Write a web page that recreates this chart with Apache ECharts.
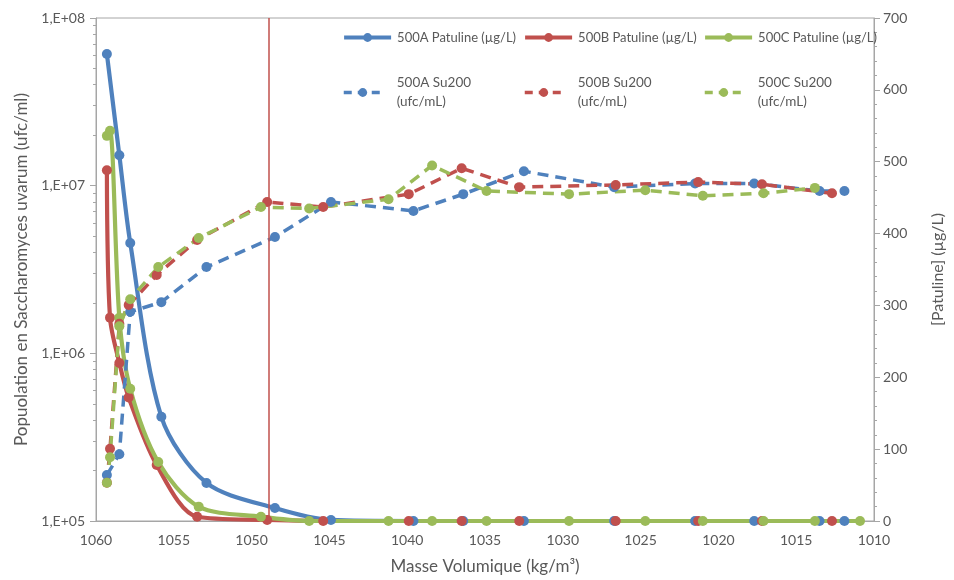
<!DOCTYPE html>
<html>
<head>
<meta charset="utf-8">
<script src="https://cdn.jsdelivr.net/npm/echarts@6/dist/echarts.min.js"></script>
<style>
  html, body { margin: 0; padding: 0; background: #ffffff; }
  #chart { width: 954px; height: 580px; }
</style>
</head>
<body>
<div id="chart"></div>
<script>
// Density of each sample (kg/m3), patulin (µg/L) and Su200 yeast counts (ufc/mL)
const densityA = [1059.3, 1058.5, 1057.8, 1055.8, 1052.9, 1048.5, 1044.9, 1039.6, 1036.4, 1032.5, 1026.7, 1021.5, 1017.7, 1013.5, 1011.9];
const patulineA = [650, 509, 387, 145, 53, 18, 1.5, 0, 0, 0, 0, 0, 0, 0, 0];
const su200A = [1.88e5, 2.5e5, 1.77e6, 2.02e6, 3.27e6, 4.94e6, 8.0e6, 7.07e6, 8.9e6, 1.22e7, 9.8e6, 1.03e7, 1.03e7, 9.3e6, 9.3e6];

const densityB = [1059.3, 1059.1, 1058.5, 1057.9, 1056.1, 1053.5, 1049.0, 1045.4, 1039.9, 1036.5, 1032.8, 1026.6, 1021.3, 1017.2, 1012.7];
const patulineB = [488, 283, 220, 172, 78, 6, 1.5, 0, 0, 0, 0, 0, 0, 0, 0];
const su200B = [1.69e5, 2.7e5, 1.5e6, 1.94e6, 2.93e6, 4.74e6, 8.0e6, 7.46e6, 8.9e6, 1.27e7, 9.8e6, 1.01e7, 1.05e7, 1.02e7, 9.0e6];

const densityC = [1059.3, 1059.1, 1058.5, 1057.8, 1056.0, 1053.4, 1049.4, 1046.3, 1041.2, 1038.4, 1034.9, 1029.6, 1024.7, 1021.0, 1017.1, 1013.8, 1010.9];
const patulineC = [536, 543, 283, 184, 82, 20, 6, 0, 0, 0, 0, 0, 0, 0, 0, 0, 0];
const su200C = [1.69e5, 2.4e5, 1.45e6, 2.1e6, 3.27e6, 4.87e6, 7.46e6, 7.3e6, 8.3e6, 1.32e7, 9.3e6, 8.9e6, 9.4e6, 8.7e6, 9.0e6, 9.7e6, null];

// Density at which the vertical reference line is drawn
const referenceDensity = 1048.9;

// Axis ranges
const densityRange = [1010, 1060];
const populationRange = [1e5, 1e8];
const patulineRange = [0, 700];

// Minor ticks of the logarithmic population axis (2..9 in each decade)
const populationMinorTicks = [];
[1e5, 1e6, 1e7].forEach(function (decade) {
  [2, 3, 4, 5, 6, 7, 8, 9].forEach(function (m) { populationMinorTicks.push(m * decade); });
});

const FONT = 'Lato';
const TEXT = '#595959';
const AXIS = '#a6a6a6';
const BLUE = '#4F81BD', RED = '#C0504D', GREEN = '#9BBB59';
const SOLID_WIDTH = 4.2, DASH_WIDTH = 3.5, DASH = [11, 7];

function points(xs, ys) {
  const out = [];
  xs.forEach(function (x, i) { if (ys[i] != null) out.push([x, ys[i]]); });
  return out;
}

function patulineSeries(name, xs, ys, color) {
  return {
    name: name, type: 'line', xAxisIndex: 0, yAxisIndex: 1,
    data: points(xs, ys), smooth: 0.3,
    symbol: 'circle', symbolSize: 10,
    lineStyle: { color: color, width: SOLID_WIDTH },
    itemStyle: { color: color },
    emphasis: { disabled: true }
  };
}

function su200Series(name, xs, ys, color) {
  return {
    name: name, type: 'line', xAxisIndex: 0, yAxisIndex: 0,
    data: points(xs, ys),
    symbol: 'circle', symbolSize: 10,
    lineStyle: { color: color, width: DASH_WIDTH, type: DASH },
    itemStyle: { color: color },
    emphasis: { disabled: true }
  };
}

const series = [
  patulineSeries('500A Patuline (µg/L)', densityA, patulineA, BLUE),
  patulineSeries('500B Patuline (µg/L)', densityB, patulineB, RED),
  patulineSeries('500C Patuline (µg/L)', densityC, patulineC, GREEN),
  su200Series('500A Su200 (ufc/mL)', densityA, su200A, BLUE),
  su200Series('500B Su200 (ufc/mL)', densityB, su200B, RED),
  su200Series('500C Su200 (ufc/mL)', densityC, su200C, GREEN)
];

// Vertical reference line
series[0].markLine = {
  silent: true, symbol: 'none', animation: false,
  label: { show: false },
  lineStyle: { color: RED, width: 1.5, type: 'solid' },
  data: [{ xAxis: referenceDensity }]
};

// One legend block per entry, laid out on two rows
const legendLeft = [342, 523, 703];
const legends = [];
series.forEach(function (s, i) {
  const row = Math.floor(i / 3);
  const col = i % 3;
  if (row === 0) {
    legends.push({
      data: [s.name], left: legendLeft[col], top: 31, padding: 0,
      itemWidth: 47, itemHeight: 11, selectedMode: false,
      lineStyle: { width: SOLID_WIDTH },
      textStyle: { fontFamily: FONT, fontSize: 13, color: TEXT, padding: [0, 0, 0, 1] }
    });
  } else {
    legends.push({
      data: [s.name], left: legendLeft[col], top: 64, padding: 0,
      itemWidth: 38, itemHeight: 11, selectedMode: false,
      lineStyle: { width: DASH_WIDTH, type: [8, 6] },
      formatter: function (n) { return n.replace(' (', '\n('); },
      textStyle: { fontFamily: FONT, fontSize: 13.5, color: TEXT, lineHeight: 19, padding: [19, 0, 0, 10] }
    });
  }
});

const option = {
  animation: false,
  backgroundColor: '#ffffff',
  grid: { left: 96, right: 77, top: 18, bottom: 59, show: true, borderColor: AXIS, borderWidth: 1, backgroundColor: 'transparent' },
  legend: legends,
  xAxis: [{
    type: 'value', min: densityRange[0], max: densityRange[1], interval: 5, inverse: true,
    name: 'Masse Volumique (kg/m³)', nameLocation: 'middle', nameGap: 37,
    nameTextStyle: { fontFamily: FONT, fontSize: 17, color: TEXT },
    axisLine: { show: true, lineStyle: { color: AXIS, width: 1 } },
    axisTick: { show: false },
    splitLine: { show: false },
    axisLabel: { fontFamily: FONT, fontSize: 14, color: TEXT, margin: 12, formatter: function (v) { return String(v); } }
  }],
  yAxis: [{
    type: 'log', logBase: 10, min: populationRange[0], max: populationRange[1], position: 'left',
    name: 'Popuolation en Saccharomyces uvarum (ufc/ml)', nameLocation: 'middle', nameGap: 64,
    nameTextStyle: { fontFamily: FONT, fontSize: 17, color: TEXT },
    axisLine: { show: true, lineStyle: { color: AXIS, width: 1 } },
    axisTick: { show: true, length: 6, lineStyle: { color: AXIS } },
    splitLine: { show: false },
    axisLabel: {
      fontFamily: FONT, fontSize: 14, color: TEXT, margin: 11,
      formatter: function (v) { return '1,E+' + String(Math.round(Math.log10(v))).padStart(2, '0'); }
    }
  }, {
    type: 'value', min: patulineRange[0], max: patulineRange[1], interval: 100, position: 'right',
    name: '[Patuline] (µg/L)', nameLocation: 'middle', nameGap: 56,
    nameTextStyle: { fontFamily: FONT, fontSize: 16, color: TEXT },
    axisLine: { show: true, lineStyle: { color: AXIS, width: 1 } },
    axisTick: { show: true, length: 6, lineStyle: { color: AXIS } },
    minorTick: { show: true, splitNumber: 5, length: 3, lineStyle: { color: AXIS } },
    splitLine: { show: false },
    minorSplitLine: { show: false },
    axisLabel: { fontFamily: FONT, fontSize: 14, color: TEXT, margin: 9 }
  }, {
    type: 'log', logBase: 10, min: populationRange[0], max: populationRange[1], position: 'left',
    axisLine: { show: false },
    axisLabel: { show: false },
    splitLine: { show: false },
    axisTick: { show: true, length: 3, customValues: populationMinorTicks, lineStyle: { color: AXIS } }
  }],
  series: series
};

const chart = echarts.init(document.getElementById('chart'), null, { renderer: 'canvas' });
chart.setOption(option);
</script>
</body>
</html>
